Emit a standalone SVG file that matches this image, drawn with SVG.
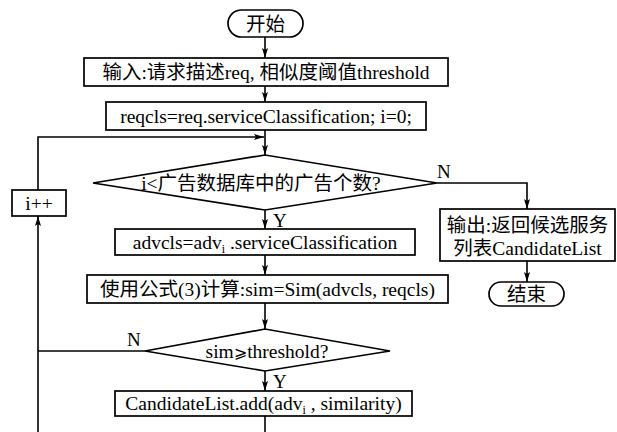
<svg xmlns="http://www.w3.org/2000/svg" width="617" height="432" viewBox="0 0 617 432">
<defs>
<marker id="ah" viewBox="0 0 10 6" refX="10" refY="3" markerWidth="10" markerHeight="6" markerUnits="userSpaceOnUse" orient="auto">
<path d="M0,0 L10,3 L0,6 L2,3 Z" fill="#000"/>
</marker>
<style>
.box{fill:#fff;stroke:#000;stroke-width:1.7}
.ln{fill:none;stroke:#000;stroke-width:1.6}
.t{font-family:"Liberation Serif","Noto Sans CJK SC",serif;font-size:19.5px;fill:#000;text-anchor:middle}
.l{font-family:"Liberation Serif",serif;font-size:19px;fill:#000}
</style>
</defs>
<rect width="617" height="432" fill="#fff"/>
<g id="connectors">
<line class="ln" x1="265" y1="37" x2="265" y2="58" marker-end="url(#ah)"/>
<line class="ln" x1="265" y1="86" x2="265" y2="102" marker-end="url(#ah)"/>
<line class="ln" x1="265" y1="130" x2="265" y2="155" marker-end="url(#ah)"/>
<polyline class="ln" points="38,190 38,137 264,137" marker-end="url(#ah)"/>
<polyline class="ln" points="437,183 527,183 527,209" marker-end="url(#ah)"/>
<text class="l" x="437" y="178">N</text>
<line class="ln" x1="527" y1="261" x2="527" y2="282" marker-end="url(#ah)"/>
<line class="ln" x1="265" y1="210" x2="265" y2="229" marker-end="url(#ah)"/>
<text class="l" x="273" y="227">Y</text>
<line class="ln" x1="265" y1="255" x2="265" y2="275" marker-end="url(#ah)"/>
<line class="ln" x1="265" y1="303" x2="265" y2="329" marker-end="url(#ah)"/>
<polyline class="ln" points="145,351 38,351"/>
<text class="l" x="127" y="346">N</text>
<line class="ln" x1="265" y1="371" x2="265" y2="391" marker-end="url(#ah)"/>
<text class="l" x="273" y="388">Y</text>
<line class="ln" x1="265" y1="416" x2="265" y2="432"/>
<line class="ln" x1="38" y1="432" x2="38" y2="216" marker-end="url(#ah)"/>
</g>
<g id="start">
<rect class="box" x="228" y="10" width="75" height="27" rx="13.5"/>
<text class="t" x="265.5" y="31">开始</text>
</g>
<g id="input">
<rect class="box" x="84" y="58" width="364" height="28"/>
<text class="t" x="266" y="79">输入:请求描述req, 相似度阈值threshold</text>
</g>
<g id="init">
<rect class="box" x="106" y="102" width="320" height="28"/>
<text class="t" x="266" y="123">reqcls=req.serviceClassification; i=0;</text>
</g>
<g id="cond1">
<polygon class="box" points="93,183 265,155 437,183 265,210"/>
<text class="t" x="261" y="190" font-size="21">i&lt;广告数据库中的广告个数?</text>
</g>
<g id="inc">
<rect class="box" x="12" y="190" width="54" height="26"/>
<text class="t" x="39" y="210">i++</text>
</g>
<g id="output">
<rect class="box" x="440" y="209" width="175" height="52"/>
<text class="t" x="527.5" y="232">输出:返回候选服务</text>
<text class="t" x="527.5" y="255">列表CandidateList</text>
</g>
<g id="end">
<rect class="box" x="489" y="282" width="75" height="24" rx="12"/>
<text class="t" x="526.5" y="301">结束</text>
</g>
<g id="advcls">
<rect class="box" x="115" y="229" width="300" height="26"/>
<text class="t" x="265" y="249">advcls=adv<tspan font-size="12" dy="4">i</tspan><tspan dy="-4"> .serviceClassification</tspan></text>
</g>
<g id="sim">
<rect class="box" x="87" y="275" width="361" height="28"/>
<text class="t" x="267.5" y="296">使用公式(3)计算:sim=Sim(advcls, reqcls)</text>
</g>
<g id="cond2">
<polygon class="box" points="145,351 265,329 390,351 265,371"/>
<text class="t" x="267" y="358">sim<tspan font-family="DejaVu Sans" font-size="16">⩾</tspan>threshold?</text>
</g>
<g id="add">
<rect class="box" x="115" y="391" width="297" height="25"/>
<text class="t" x="263.5" y="410">CandidateList.add(adv<tspan font-size="12" dy="4">i</tspan><tspan dy="-4"> , similarity)</tspan></text>
</g>
</svg>
